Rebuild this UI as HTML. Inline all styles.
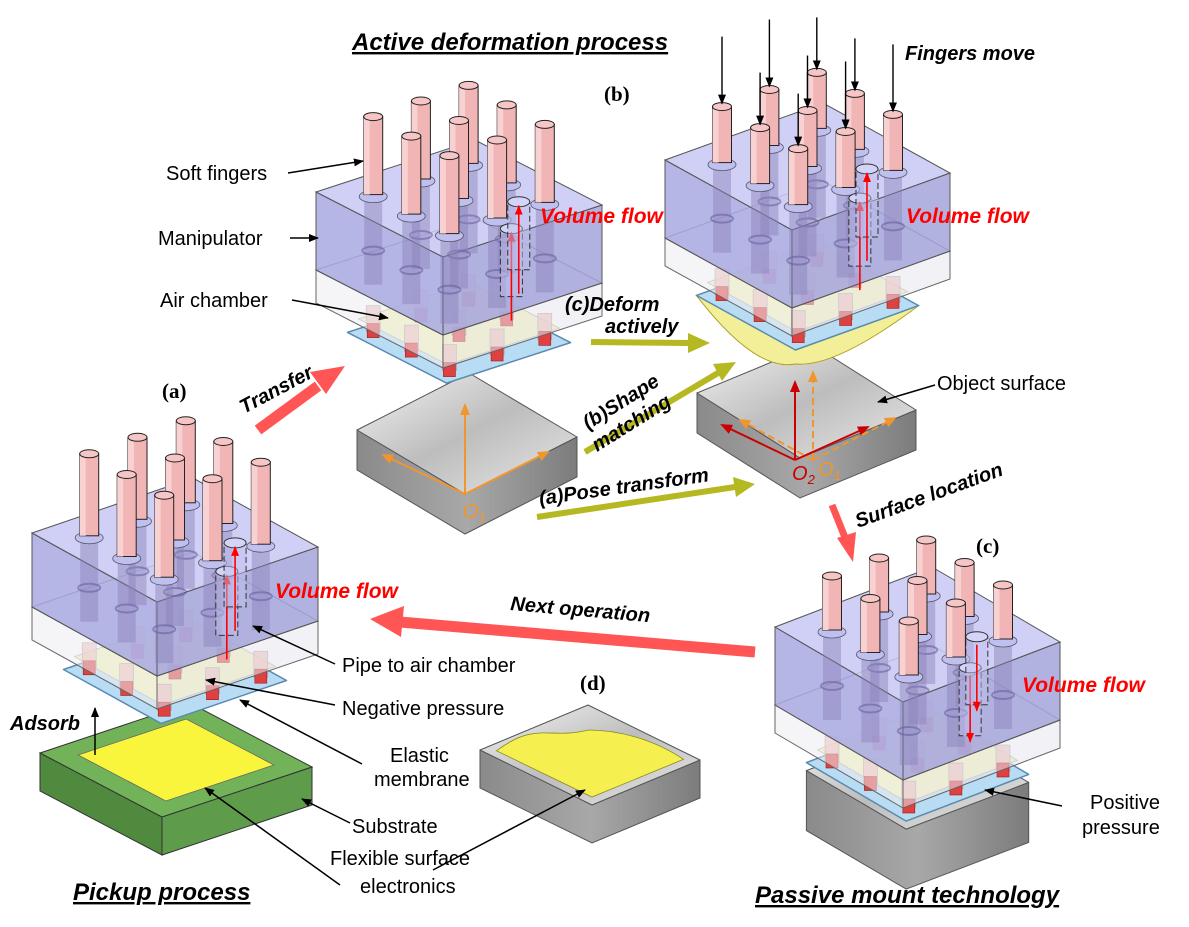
<!DOCTYPE html>
<html><head><meta charset="utf-8">
<style>
html,body{margin:0;padding:0;background:#fff;}
svg{display:block;}
.lb{font-family:"Liberation Sans",sans-serif;font-size:20px;fill:#000;}
.bi{font-family:"Liberation Sans",sans-serif;font-size:20px;font-weight:bold;font-style:italic;fill:#000;}
.vf{font-family:"Liberation Sans",sans-serif;font-size:21px;font-weight:bold;font-style:italic;fill:#f00;}
.sr{font-family:"Liberation Serif",serif;font-size:21px;font-weight:bold;fill:#000;}
.tt{font-family:"Liberation Sans",sans-serif;font-size:24px;font-weight:bold;font-style:italic;fill:#000;text-decoration:underline;}
.oo{font-family:"Liberation Sans",sans-serif;font-size:20px;font-style:italic;fill:#f0962d;}
</style></head>
<body>
<svg id="s" width="1189" height="927" viewBox="0 0 1189 927" xmlns="http://www.w3.org/2000/svg">
<defs>
<marker id="ab" markerWidth="10" markerHeight="10" refX="9" refY="5" orient="auto" markerUnits="userSpaceOnUse"><path d="M0,1 L10,5 L0,9 Z" fill="#000"/></marker>
<marker id="ar" markerWidth="10" markerHeight="10" refX="9" refY="5" orient="auto" markerUnits="userSpaceOnUse"><path d="M0,1 L10,5 L0,9 Z" fill="#f00"/></marker>
<marker id="ao" markerWidth="12" markerHeight="12" refX="10" refY="6" orient="auto" markerUnits="userSpaceOnUse"><path d="M0,1 L12,6 L0,11 Z" fill="#f0962d"/></marker>
<marker id="ad" markerWidth="12" markerHeight="12" refX="10" refY="6" orient="auto" markerUnits="userSpaceOnUse"><path d="M0,1 L12,6 L0,11 Z" fill="#c00"/></marker>
<linearGradient id="gt" x1="0" y1="0" x2="1" y2="1"><stop offset="0" stop-color="#f4f4f4"/><stop offset="0.5" stop-color="#bdbdbd"/><stop offset="1" stop-color="#e8e8e8"/></linearGradient>
<linearGradient id="gs" x1="0" y1="0" x2="1" y2="0"><stop offset="0" stop-color="#8a8a8a"/><stop offset="0.5" stop-color="#a8a8a8"/><stop offset="1" stop-color="#7c7c7c"/></linearGradient>
</defs>
<g id="scene"></g>

<line x1="258" y1="430" x2="318" y2="386" stroke="#f55" stroke-width="11"/>
<polygon points="345,366 310,372 326,394" fill="#f55"/>
<line x1="832" y1="505" x2="846" y2="540" stroke="#f55" stroke-width="7"/>
<polygon points="853,562 837,538 856,532" fill="#f55"/>
<line x1="755" y1="652" x2="400" y2="622" stroke="#f55" stroke-width="11"/>
<polygon points="370,619 404,606 401,637" fill="#f55"/>
<line x1="591" y1="342" x2="690" y2="343" stroke="#b5b820" stroke-width="6"/>
<polygon points="710,343 688,333 688,353" fill="#b5b820"/>
<line x1="585" y1="452" x2="718" y2="373" stroke="#b5b820" stroke-width="6"/>
<polygon points="736,362 713,364 722,381" fill="#b5b820"/>
<line x1="537" y1="517" x2="735" y2="487" stroke="#b5b820" stroke-width="6"/>
<polygon points="755,484 733,477 736,497" fill="#b5b820"/>

<text class="tt" x="352" y="50">Active deformation process</text>
<text class="sr" x="604" y="101">(b)</text>
<text class="bi" x="905" y="60">Fingers move</text>
<text class="lb" x="166" y="180">Soft fingers</text>
<line x1="288" y1="173" x2="363" y2="161" stroke="#000" stroke-width="1.5" marker-end="url(#ab)"/>
<text class="lb" x="158" y="245">Manipulator</text>
<line x1="290" y1="238" x2="318" y2="238" stroke="#000" stroke-width="1.5" marker-end="url(#ab)"/>
<text class="lb" x="160" y="307">Air chamber</text>
<line x1="292" y1="300" x2="388" y2="318" stroke="#000" stroke-width="1.5" marker-end="url(#ab)"/>
<text class="vf" x="540" y="223">Volume flow</text>
<text class="vf" x="906" y="223">Volume flow</text>
<text class="vf" x="275" y="598">Volume flow</text>
<text class="vf" x="1022" y="692">Volume flow</text>
<text class="bi" x="565" y="311">(c)Deform</text>
<text class="bi" x="605" y="333">actively</text>
<text class="bi" transform="translate(588,430) rotate(-32)">(b)Shape</text>
<text class="bi" transform="translate(597,452) rotate(-32)">matching</text>
<text class="bi" transform="translate(540,505) rotate(-8)">(a)Pose transform</text>
<text class="bi" transform="translate(244,414) rotate(-28)">Transfer</text>
<text class="sr" x="162" y="398">(a)</text>
<text class="lb" x="937" y="390">Object surface</text>
<line x1="935" y1="385" x2="878" y2="402" stroke="#000" stroke-width="1.5" marker-end="url(#ab)"/>
<text class="bi" transform="translate(858,528) rotate(-20)">Surface location</text>
<text class="sr" x="976" y="553">(c)</text>
<text class="bi" transform="translate(510,610) rotate(5)">Next operation</text>
<text class="lb" x="342" y="672">Pipe to air chamber</text>
<line x1="335" y1="664" x2="253" y2="626" stroke="#000" stroke-width="1.5" marker-end="url(#ab)"/>
<text class="lb" x="342" y="715">Negative pressure</text>
<line x1="335" y1="705" x2="206" y2="680" stroke="#000" stroke-width="1.5" marker-end="url(#ab)"/>
<text class="lb" x="390" y="762">Elastic</text>
<text class="lb" x="374" y="786">membrane</text>
<line x1="362" y1="764" x2="240" y2="700" stroke="#000" stroke-width="1.5" marker-end="url(#ab)"/>
<text class="lb" x="352" y="833">Substrate</text>
<line x1="350" y1="823" x2="302" y2="799" stroke="#000" stroke-width="1.5" marker-end="url(#ab)"/>
<text class="lb" x="330" y="865">Flexible surface</text>
<text class="lb" x="360" y="893">electronics</text>
<line x1="340" y1="885" x2="205" y2="788" stroke="#000" stroke-width="1.5" marker-end="url(#ab)"/>
<line x1="433" y1="870" x2="585" y2="790" stroke="#000" stroke-width="1.5" marker-end="url(#ab)"/>
<text class="tt" x="73" y="900">Pickup process</text>
<text class="tt" x="755" y="903">Passive mount technology</text>
<text class="bi" x="10" y="730">Adsorb</text>
<line x1="95" y1="755" x2="95" y2="708" stroke="#000" stroke-width="1.5" marker-end="url(#ab)"/>
<text class="sr" x="580" y="690">(d)</text>
<text class="lb" x="1090" y="809">Positive</text>
<text class="lb" x="1082" y="834">pressure</text>
<line x1="1062" y1="806" x2="985" y2="790" stroke="#000" stroke-width="1.5" marker-end="url(#ab)"/>
<text class="oo" x="463" y="518">O<tspan font-size="13" dy="4">1</tspan></text>
<text class="oo" x="792" y="480" style="fill:#c00">O<tspan font-size="13" dy="4">2</tspan></text>
<text class="oo" x="818" y="476">O<tspan font-size="13" dy="4">1</tspan></text>
</svg>
<script>
var NS="http://www.w3.org/2000/svg",G=document.getElementById("scene");
function el(t,a,p){var e=document.createElementNS(NS,t);for(var k in a)e.setAttribute(k,a[k]);(p||G).appendChild(e);return e;}
function pts(a){return a.map(function(p){return p[0].toFixed(1)+","+p[1].toFixed(1)}).join(" ");}
function add(a,b){return[a[0]+b[0],a[1]+b[1]];}
function sub(a,b){return[a[0]-b[0],a[1]-b[1]];}
function mul(a,k){return[a[0]*k,a[1]*k];}
function dn(a,h){return[a[0],a[1]+h];}
function boxFaces(L,F,R,h,top,left,right,stroke,op){
  var B=add(L,sub(R,F));
  el("polygon",{points:pts([L,F,dn(F,h),dn(L,h)]),fill:left,stroke:stroke,"stroke-width":1,"fill-opacity":op});
  el("polygon",{points:pts([F,R,dn(R,h),dn(F,h)]),fill:right,stroke:stroke,"stroke-width":1,"fill-opacity":op});
  el("polygon",{points:pts([L,B,R,F]),fill:top,stroke:stroke,"stroke-width":1,"fill-opacity":op});
}
function tray(L,F,R,h,yellow){
  var B=add(L,sub(R,F));
  el("polygon",{points:pts([L,F,R,dn(R,h),dn(F,h),dn(L,h)]),fill:"url(#gs)",stroke:"#555","stroke-width":1});
  el("polygon",{points:pts([L,B,R,F]),fill:"url(#gt)",stroke:"#555","stroke-width":1,"stroke-linejoin":"round"});
  if(yellow){
    var c=mul(add(L,R),0.5);
    var i=function(p,k){return add(c,mul(sub(p,c),k));};
    el("path",{d:"M"+pts([i(L,0.85)])+" C "+pts([add(i(L,0.85),[40,-30]),add(i(B,0.7),[-40,20]),add(i(B,0.7),[0,10])])+" C "+pts([add(i(B,0.7),[30,10]),add(i(R,0.85),[-30,-20]),i(R,0.85)])+" L "+pts([add(F,[0,-8])])+" Z",fill:"#f5f050",stroke:"#8a8a20","stroke-width":0.8});
  }
}
function manip(L,F,R,h1,h2,flen,opt){
  opt=opt||{};
  var B=add(L,sub(R,F)),H=h1+h2;
  var c=mul(add(L,R),0.5);
  var ins=function(p,k){return add(c,mul(sub(p,c),k));};
  var Lp=dn(ins(L,0.78),H+28),Fp=dn(ins(F,0.78),H+28),Rp=dn(ins(R,0.78),H+28),Bp=dn(ins(B,0.78),H+28);
  if(opt.tray){tray(dn(ins(L,0.78),H+36),dn(ins(F,0.78),H+36),dn(ins(R,0.78),H+36),opt.tray,false);}
  if(opt.bulge){el("path",{d:"M"+pts([Lp])+" Q "+pts([add(Fp,[-40,22]),add(Fp,[0,14])])+" Q "+pts([add(Fp,[40,18]),Rp])+" Z",fill:"#f3ef98",stroke:"#b0a020","stroke-width":1});}
  el("polygon",{points:pts([Lp,Fp,Rp,Bp]),fill:"#b8dcf4",stroke:"#5a8ab0","stroke-width":1.5,"stroke-linejoin":"round"});
  el("polygon",{points:pts([ins(Lp,0.9),ins(Fp,0.9),ins(Rp,0.9),ins(Bp,0.9)]),fill:opt.yel||"#f3f1b8",stroke:"#aaa","stroke-width":0.8});
  var P=[];
  [0.2,0.5,0.8].forEach(function(u){[0.2,0.5,0.8].forEach(function(v){P.push(add(L,add(mul(sub(F,L),u),mul(sub(B,L),v))));});});
  P.sort(function(a,b){return a[1]-b[1];});
  P.forEach(function(p){
    var y=p[1]+H;
    el("rect",{x:p[0]-7,y:y,width:14,height:26,fill:"#eeb4b4",stroke:"#999","stroke-width":0.6,"fill-opacity":0.8});
    el("rect",{x:p[0]-6,y:y+18,width:12,height:14,fill:"#e04040",stroke:"#902020","stroke-width":0.6});
  });
  boxFaces(dn(L,h1),dn(F,h1),dn(R,h1),h2,"#f0f0f0","#ececf0","#e8e8ee","#666",0.55);
  boxFaces(L,F,R,h1,"#c8c8f4","#a9a9e2","#a4a4dc","#555",0.85);
  P.forEach(function(p){
    el("rect",{x:p[0]-9,y:p[1],width:18,height:h1+12,fill:"#8a80b8","fill-opacity":0.45});
    el("ellipse",{cx:p[0],cy:p[1]+h1-22,rx:11,ry:4,fill:"none",stroke:"#6a60a0","stroke-width":2,"stroke-opacity":0.6});
    el("ellipse",{cx:p[0],cy:p[1]+2,rx:14,ry:6,fill:"#c0c0f0",stroke:"#556","stroke-width":0.8});
  });
  [[0.85,0.55],[0.62,0.78]].forEach(function(uv){
    var p=add(L,add(mul(sub(F,L),uv[0]),mul(sub(B,L),uv[1])));
    el("rect",{x:p[0]-11,y:p[1]+10,width:22,height:h1-10,fill:"#c0c0ee","fill-opacity":0.5,stroke:"#333","stroke-width":1,"stroke-dasharray":"6,3"});
    el("ellipse",{cx:p[0],cy:p[1]+10,rx:11,ry:5,fill:"#d4d4f8",stroke:"#333","stroke-width":1});
    if(opt.down) el("line",{x1:p[0],y1:p[1]+18,x2:p[0],y2:p[1]+h1+6,stroke:"#f00","stroke-width":1.6,"marker-end":"url(#ar)"});
    else el("line",{x1:p[0],y1:p[1]+h1+24,x2:p[0],y2:p[1]+14,stroke:"#f00","stroke-width":1.6,"marker-end":"url(#ar)"});
  });
  P.forEach(function(p,i){
    var top=p[1]-flen;
    el("rect",{x:p[0]-9.5,y:top,width:19,height:flen,fill:"#f2b5b5",stroke:"#222","stroke-width":1});
    el("rect",{x:p[0]-9.5,y:top,width:6,height:flen,fill:"#f8d2d2"});
    el("ellipse",{cx:p[0],cy:top,rx:9.5,ry:4,fill:"#f6c6c6",stroke:"#222","stroke-width":1});
    if(opt.arrows) el("line",{x1:p[0],y1:Math.max(12,top-(i%2?70:55)),x2:p[0],y2:top-3,stroke:"#000","stroke-width":1.4,"marker-end":"url(#ab)"});
  });
}
tray([357,430],[465,494],[577,437],40,false);
el("line",{x1:465,y1:494,x2:465,y2:405,stroke:"#f0962d","stroke-width":2,"marker-end":"url(#ao)"});
el("line",{x1:465,y1:494,x2:383,y2:455,stroke:"#f0962d","stroke-width":2,"marker-end":"url(#ao)"});
el("line",{x1:465,y1:494,x2:548,y2:452,stroke:"#f0962d","stroke-width":2,"marker-end":"url(#ao)"});
tray([697,393],[800,458],[916,410],40,false);
el("line",{x1:795,y1:460,x2:795,y2:382,stroke:"#c00","stroke-width":2,"marker-end":"url(#ad)"});
el("line",{x1:795,y1:460,x2:722,y2:425,stroke:"#c00","stroke-width":2,"marker-end":"url(#ad)"});
el("line",{x1:795,y1:460,x2:868,y2:427,stroke:"#c00","stroke-width":2,"marker-end":"url(#ad)"});
el("line",{x1:813,y1:460,x2:813,y2:372,stroke:"#f0962d","stroke-width":2,"stroke-dasharray":"7,4","marker-end":"url(#ao)"});
el("line",{x1:813,y1:460,x2:740,y2:420,stroke:"#f0962d","stroke-width":2,"stroke-dasharray":"7,4","marker-end":"url(#ao)"});
el("line",{x1:813,y1:460,x2:895,y2:418,stroke:"#f0962d","stroke-width":2,"stroke-dasharray":"7,4","marker-end":"url(#ao)"});
tray([480,750],[592,805],[700,760],38,true);
(function(){var L=[40,753],F=[162,817],R=[312,767],h=38,B=add(L,sub(R,F));
el("polygon",{points:pts([L,F,dn(F,h),dn(L,h)]),fill:"#4f8a3f",stroke:"#333","stroke-width":1});
el("polygon",{points:pts([F,R,dn(R,h),dn(F,h)]),fill:"#5e9c4b",stroke:"#333","stroke-width":1});
el("polygon",{points:pts([L,B,R,F]),fill:"#72b35a",stroke:"#333","stroke-width":1});
var c=mul(add(L,R),0.5),k=0.72,i=function(p){return add(c,mul(sub(p,c),k));};
el("polygon",{points:pts([i(L),i(B),i(R),i(F)]),fill:"#f8f53c",stroke:"#666","stroke-width":0.8});
})();
manip([32,533],[157,602],[318,547],74,33,82,{});
manip([316,192],[443,257],[602,205],78,33,78,{});
manip([665,160],[792,230],[950,173],78,28,56,{arrows:true,bulge:true});
manip([775,627],[903,702],[1060,642],78,28,54,{down:true,tray:60});
</script>
</body></html>
